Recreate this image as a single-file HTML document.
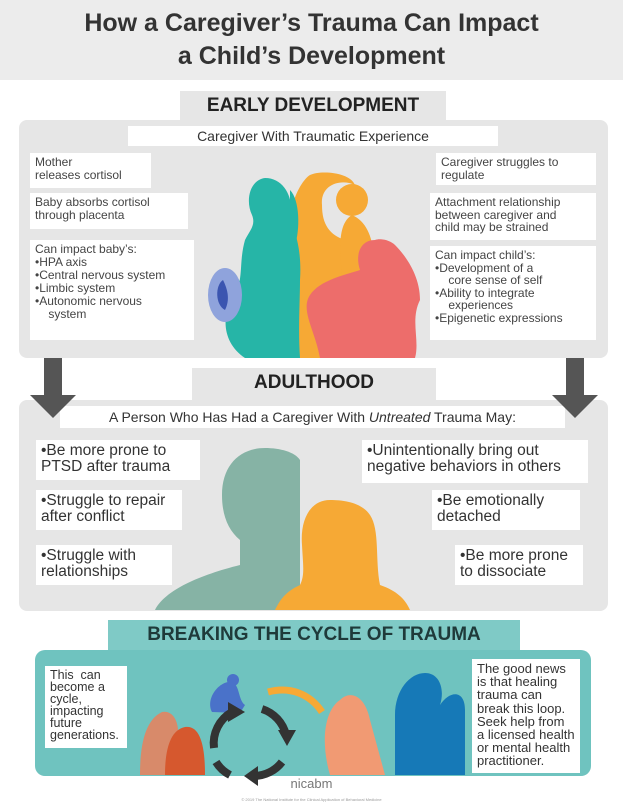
<!DOCTYPE html>
<html><head><meta charset="utf-8"><style>
*{margin:0;padding:0;box-sizing:border-box}
body{width:623px;height:805px;background:#fff;position:relative;overflow:hidden;font-family:"Liberation Sans","DejaVu Sans",sans-serif;color:#333}
.a{position:absolute}
.w{position:absolute;background:#fff;font-size:12px;line-height:12.5px;padding:3px 5px;color:#444}
.big{font-size:15.5px;line-height:16px;color:#333}
.lab{position:absolute;text-align:center;font-weight:bold;color:#222}
</style></head><body>
<div class="a" style="left:0;top:0;width:623px;height:80px;background:#ececec"></div>
<div class="a" style="left:0;top:7px;width:623px;text-align:center;font-size:25px;line-height:33px;font-weight:bold;color:#333">How a Caregiver’s Trauma Can Impact<br>a Child’s Development</div>

<div class="lab" style="left:180px;top:91px;width:266px;height:30px;background:#e6e6e6;font-size:19px;line-height:30px">EARLY DEVELOPMENT</div>
<div class="a" style="left:19px;top:120px;width:589px;height:238px;background:#e6e6e6;border-radius:8px"></div>
<div class="a" style="left:128px;top:126px;width:370px;height:20px;background:#fff;text-align:center;font-size:14px;line-height:20px">Caregiver With Traumatic Experience</div>

<svg class="a" style="left:0;top:0" width="623" height="805">
<path d="M355 185 C340 178 320 185 322 205 C322 225 330 235 345 240 C360 250 365 300 360 358 L285 358 C280 300 282 250 290 215 C295 190 305 178 310 175 C320 170 350 172 355 185Z" fill="#f6a935"/>
<circle cx="352" cy="200" r="16" fill="#f6a935"/>
<path d="M352 215 C335 225 340 260 345 300 L370 300 C378 260 375 225 352 215Z" fill="#f6a935"/>
<path d="M265 178 C250 180 245 200 252 215 C256 225 250 230 245 240 C238 265 245 280 232 300 C220 320 225 345 245 358 L300 358 C298 330 300 300 300 280 C302 250 295 230 290 220 C295 200 285 178 265 178Z" fill="#26b5a7"/>
<path d="M290 190 C300 200 300 230 295 245 L290 240Z" fill="#26b5a7"/>
<ellipse cx="225" cy="295" rx="17" ry="27" fill="#8fa3dc"/>
<path d="M223 280 C215 285 215 305 225 310 C230 300 228 290 223 280Z" fill="#3b55b0"/>
<path d="M375 240 C360 240 355 255 360 270 C345 275 320 280 310 295 C300 310 315 330 320 358 L415 358 C420 340 410 320 420 300 C420 275 405 255 395 245 C390 240 380 238 375 240Z" fill="#ed6d6b"/>
</svg>

<div class="w" style="left:30px;top:153px;width:121px;height:35px">Mother<br>releases cortisol</div>
<div class="w" style="left:30px;top:193px;width:158px;height:36px">Baby absorbs cortisol<br>through placenta</div>
<div class="w" style="left:30px;top:240px;width:164px;height:100px;line-height:13px">Can impact baby’s:<br>•HPA axis<br>•Central nervous system<br>•Limbic system<br>•Autonomic nervous<br>&nbsp;&nbsp;&nbsp;&nbsp;system</div>
<div class="w" style="left:436px;top:153px;width:160px;height:32px">Caregiver struggles to<br>regulate</div>
<div class="w" style="left:430px;top:193px;width:166px;height:47px">Attachment relationship<br>between caregiver and<br>child may be strained</div>
<div class="w" style="left:430px;top:246px;width:166px;height:94px;line-height:12.5px">Can impact child’s:<br>•Development of a<br>&nbsp;&nbsp;&nbsp;&nbsp;core sense of self<br>•Ability to integrate<br>&nbsp;&nbsp;&nbsp;&nbsp;experiences<br>•Epigenetic expressions</div>

<div class="lab" style="left:192px;top:368px;width:244px;height:32px;background:#e6e6e6;font-size:19px;line-height:30px;z-index:2">ADULTHOOD</div>
<div class="a" style="left:19px;top:400px;width:589px;height:211px;background:#e6e6e6;border-radius:8px"></div>
<div class="a" style="left:60px;top:406px;width:505px;height:22px;background:#fff;text-align:center;font-size:14px;line-height:22px">A Person Who Has Had a Caregiver With <i>Untreated</i> Trauma May:</div>
<svg class="a" style="left:0;top:0" width="623" height="805">
<rect x="44" y="358" width="18" height="38" fill="#555"/>
<polygon points="30,395 76,395 53,418" fill="#555"/>
<rect x="566" y="358" width="18" height="38" fill="#555"/>
<polygon points="552,395 598,395 575,418" fill="#555"/>
<path d="M265 448 C240 448 222 465 222 495 C222 515 228 530 240 540 L240 565 C200 575 165 590 155 610 L300 610 L300 460 C295 452 280 448 265 448Z" fill="#86b3a5"/>
<path d="M330 500 C310 500 300 520 302 545 C303 565 305 575 300 585 C285 592 280 600 275 610 L410 610 C405 598 395 590 380 585 C375 560 380 530 370 515 C362 503 345 500 330 500Z" fill="#f6a935"/>
</svg>
<div class="w big" style="left:36px;top:440px;width:164px;height:40px">•Be more prone to<br>PTSD after trauma</div>
<div class="w big" style="left:36px;top:490px;width:146px;height:40px">•Struggle to repair<br>after conflict</div>
<div class="w big" style="left:36px;top:545px;width:136px;height:40px">•Struggle with<br>relationships</div>
<div class="w big" style="left:362px;top:440px;width:226px;height:43px">•Unintentionally bring out<br>negative behaviors in others</div>
<div class="w big" style="left:432px;top:490px;width:148px;height:40px">•Be emotionally<br>detached</div>
<div class="w big" style="left:455px;top:545px;width:128px;height:40px">•Be more prone<br>to dissociate</div>

<div class="lab" style="left:108px;top:620px;width:412px;height:32px;background:#7fcac6;font-size:19px;line-height:30px;color:#1f3a3a">BREAKING THE CYCLE OF TRAUMA</div>
<div class="a" style="left:35px;top:650px;width:556px;height:126px;background:#6fc3bf;border-radius:10px"></div>
<svg class="a" style="left:0;top:0" width="623" height="805">
<path d="M140 775 C140 745 145 720 162 712 C172 710 180 720 178 740 L190 775Z" fill="#d88a6a"/>
<path d="M165 775 C165 750 170 730 185 727 C200 725 205 745 205 775Z" fill="#d6582e"/>
<path d="M212 712 C205 698 220 680 232 682 C240 685 238 700 245 705 L240 713Z" fill="#4a72c9"/>
<circle cx="233" cy="680" r="6" fill="#4a72c9"/>
<path d="M268 692 C290 686 310 694 322 712" stroke="#f6a935" stroke-width="7" fill="none"/>
<g stroke="#333" stroke-width="8" fill="none">
<path d="M214 748 A36 36 0 0 1 232 712"/>
<path d="M262 709 A36 36 0 0 1 286 735"/>
<path d="M282 762 A36 36 0 0 1 254 776"/>
<path d="M230 775 A36 36 0 0 1 216 762"/>
</g>
<g fill="#333">
<polygon points="228,702 245,712 228,722"/>
<polygon points="278,730 296,730 287,746"/>
<polygon points="258,766 258,786 244,776"/>
</g>
<path d="M330 775 C320 740 325 710 340 700 C350 690 365 695 370 720 L385 775Z" fill="#f19a73"/>
<path d="M395 775 L395 715 C395 690 410 673 425 673 C440 673 445 690 440 705 C450 690 465 690 465 710 L465 775Z" fill="#1679b7"/>
</svg>
<div class="w" style="left:45px;top:666px;width:82px;height:82px;font-size:12.5px;line-height:12px;color:#333">This &nbsp;can<br>become a<br>cycle,<br>impacting<br>future<br>generations.</div>
<div class="w" style="left:472px;top:659px;width:108px;height:114px;font-size:13px;line-height:13.2px;color:#333">The good news<br>is that healing<br>trauma can<br>break this loop.<br>Seek help from<br>a licensed health<br>or mental health<br>practitioner.</div>
<div class="a" style="left:0;top:776px;width:623px;text-align:center;font-size:13px;color:#777">nicabm</div>
<div class="a" style="left:0;top:797px;width:623px;text-align:center;font-size:4px;color:#999">© 2019 The National Institute for the Clinical Application of Behavioral Medicine</div>
</body></html>
